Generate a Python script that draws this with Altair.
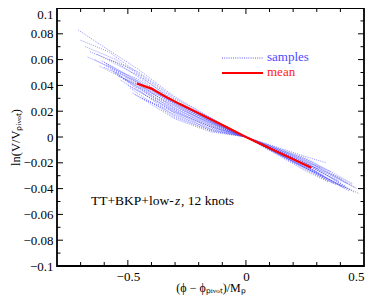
import altair as alt
import pandas as pd

# ---- sample curves (knot positions) ----
samples_x = [
    [-0.71, -0.62, -0.46, -0.30, -0.15, 0.0, 0.25, 0.45],
    [-0.70, -0.58, -0.46, -0.30, -0.15, 0.0, 0.25, 0.47],
    [-0.66, -0.55, -0.46, -0.30, -0.15, 0.0, 0.25, 0.42],
    [-0.67, -0.55, -0.46, -0.30, -0.15, 0.0, 0.25, 0.44],
    [-0.64, -0.46, -0.30, -0.15, 0.0, 0.25, 0.40],
    [-0.60, -0.46, -0.30, -0.15, 0.0, 0.25, 0.46],
    [-0.62, -0.46, -0.30, -0.15, 0.0, 0.25, 0.48],
    [-0.57, -0.46, -0.30, -0.15, 0.0, 0.25, 0.43],
    [-0.55, -0.46, -0.30, -0.15, 0.0, 0.25, 0.38],
    [-0.52, -0.46, -0.30, -0.15, 0.0, 0.25, 0.36],
    [-0.50, -0.46, -0.30, -0.15, 0.0, 0.25, 0.41],
    [-0.49, -0.46, -0.30, -0.15, 0.0, 0.25, 0.35],
    [-0.48, -0.46, -0.30, -0.15, 0.0, 0.25, 0.33],
    [-0.63, -0.46, -0.30, -0.15, 0.0, 0.25, 0.34],
    [-0.58, -0.46, -0.30, -0.15, 0.0, 0.25, 0.45],
    [-0.54, -0.46, -0.30, -0.15, 0.0, 0.25, 0.39],
    [-0.53, -0.46, -0.30, -0.15, 0.0, 0.25, 0.30],
    [-0.47, -0.30, -0.15, 0.0, 0.25, 0.37],
    [-0.60, -0.46, -0.30, -0.15, 0.0, 0.25, 0.43],
    [-0.56, -0.46, -0.30, -0.15, 0.0, 0.25, 0.32],
    [-0.44, -0.30, -0.15, 0.0, 0.25, 0.41],
    [-0.68, -0.55, -0.46, -0.30, -0.15, 0.0, 0.25, 0.46],
    [-0.51, -0.38, -0.22, -0.08, 0.0, 0.18, 0.40],
    [-0.59, -0.40, -0.24, -0.10, 0.0, 0.20, 0.44],
    [-0.45, -0.34, -0.20, -0.06, 0.0, 0.15, 0.31],
    [-0.61, -0.42, -0.26, -0.12, 0.0, 0.22, 0.42],
]
samples_y = [
    [0.083, 0.072, 0.053, 0.031, 0.015, 0.0, -0.016, -0.036],
    [0.075, 0.066, 0.050, 0.029, 0.014, 0.0, -0.018, -0.040],
    [0.066, 0.058, 0.047, 0.025, 0.011, 0.0, -0.020, -0.038],
    [0.062, 0.052, 0.045, 0.027, 0.013, 0.0, -0.022, -0.042],
    [0.060, 0.042, 0.022, 0.009, 0.0, -0.021, -0.035],
    [0.058, 0.044, 0.024, 0.010, 0.0, -0.019, -0.043],
    [0.055, 0.040, 0.020, 0.008, 0.0, -0.024, -0.044],
    [0.052, 0.039, 0.018, 0.006, 0.0, -0.023, -0.040],
    [0.050, 0.037, 0.016, 0.005, 0.0, -0.025, -0.037],
    [0.045, 0.038, 0.021, 0.009, 0.0, -0.017, -0.027],
    [0.040, 0.036, 0.019, 0.007, 0.0, -0.020, -0.033],
    [0.038, 0.034, 0.015, 0.005, 0.0, -0.026, -0.035],
    [0.034, 0.032, 0.017, 0.006, 0.0, -0.022, -0.030],
    [0.064, 0.048, 0.028, 0.013, 0.0, -0.015, -0.020],
    [0.060, 0.051, 0.030, 0.015, 0.0, -0.017, -0.037],
    [0.047, 0.041, 0.023, 0.011, 0.0, -0.021, -0.034],
    [0.044, 0.036, 0.020, 0.008, 0.0, -0.023, -0.027],
    [0.033, 0.014, 0.004, 0.0, -0.024, -0.036],
    [0.054, 0.043, 0.026, 0.012, 0.0, -0.018, -0.036],
    [0.050, 0.039, 0.022, 0.010, 0.0, -0.019, -0.024],
    [0.030, 0.019, 0.008, 0.0, -0.022, -0.039],
    [0.070, 0.060, 0.049, 0.027, 0.012, 0.0, -0.020, -0.039],
    [0.046, 0.033, 0.018, 0.006, 0.0, -0.017, -0.038],
    [0.056, 0.036, 0.020, 0.008, 0.0, -0.019, -0.041],
    [0.039, 0.028, 0.015, 0.004, 0.0, -0.013, -0.025],
    [0.059, 0.039, 0.023, 0.010, 0.0, -0.021, -0.040],
]

# ---- mean curve ----
mean_x = [-0.462, -0.40, -0.34, -0.28, -0.20, -0.10, 0.0, 0.277]
mean_y = [0.0415, 0.0375, 0.0312, 0.0255, 0.0185, 0.0093, 0.0, -0.0238]

# ---- ticks ----
x_labels = [-0.5, 0.0, 0.5]
x_major = [-0.5, 0.0]
x_minor = [-0.7, -0.6, -0.4, -0.3, -0.2, -0.1, 0.1, 0.2, 0.3, 0.4]
y_major = [-0.08, -0.06, -0.04, -0.02, 0.0, 0.02, 0.04, 0.06, 0.08]
y_minor = [-0.09, -0.07, -0.05, -0.03, -0.01, 0.01, 0.03, 0.05, 0.07, 0.09]
y_labels = [-0.1, -0.08, -0.06, -0.04, -0.02, 0.0, 0.02, 0.04, 0.06, 0.08, 0.1]

FONT = "Liberation Serif"
W, H = 307, 258

rows = []
for i, (xs, ys) in enumerate(zip(samples_x, samples_y)):
    for j, (xv, yv) in enumerate(zip(xs, ys)):
        rows.append({"sample": i, "order": j, "x": xv, "y": yv})
df_s = pd.DataFrame(rows)
df_m = pd.DataFrame({"x": mean_x, "y": mean_y, "order": list(range(len(mean_x)))})

xscale = alt.Scale(domain=[-0.8, 0.5], nice=False, zero=False)
yscale = alt.Scale(domain=[-0.1, 0.1], nice=False, zero=False)

xaxis = alt.Axis(values=x_labels, format="~g", ticks=False, domain=False, grid=False,
                 labelFont=FONT, labelFontSize=13, labelColor="black", labelPadding=4,
                 labelOverlap=False,
                 title="(ϕ − ϕₚᵢᵥₒₜ)/Mₚ", titleFont=FONT, titleFontSize=12,
                 titleFontWeight="normal", titleColor="black",
                 titleBaseline="alphabetic", titleY=25)
yaxis = alt.Axis(values=y_labels, format="~g", ticks=False, domain=False, grid=False,
                 labelFont=FONT, labelFontSize=13, labelColor="black", labelPadding=4,
                 labelOverlap=False, labelBound=False,
                 labelBaseline={"condition": {"test": "datum.value >= 0.099", "value": "top"},
                                "value": "middle"},
                 title="ln(V/Vₚᵢᵥₒₜ)", titleFont=FONT, titleFontSize=12.5,
                 titleFontWeight="normal", titleColor="black",
                 titleBaseline="alphabetic", titleX=-38)

def X():
    return alt.X("x:Q", scale=xscale, axis=xaxis)

def Y():
    return alt.Y("y:Q", scale=yscale, axis=yaxis)

samples = alt.Chart(df_s).mark_line(
    color="#4646ff", strokeWidth=0.8, strokeDash=[1, 1.2], opacity=0.75, clip=True
).encode(x=X(), y=Y(), detail="sample:N", order="order:Q")

mean = alt.Chart(df_m).mark_line(color="#ff0000", strokeWidth=2.2).encode(
    x=X(), y=Y(), order="order:Q")

def xticks(vals, length):
    d = pd.DataFrame({"x": vals})
    bot = alt.Chart(d).mark_rule(color="black", strokeWidth=1).encode(
        x=X(), y=alt.value(H), y2=alt.value(H - length))
    top = alt.Chart(d).mark_rule(color="black", strokeWidth=1).encode(
        x=X(), y=alt.value(0), y2=alt.value(length))
    return [bot, top]

def yticks(vals, length):
    d = pd.DataFrame({"y": vals})
    left = alt.Chart(d).mark_rule(color="black", strokeWidth=1).encode(
        y=Y(), x=alt.value(0), x2=alt.value(length))
    right = alt.Chart(d).mark_rule(color="black", strokeWidth=1).encode(
        y=Y(), x=alt.value(W), x2=alt.value(W - length))
    return [left, right]

one = pd.DataFrame({"a": [0]})
frame = alt.Chart(one).mark_rect(fill=None, stroke="black", strokeWidth=1.8).encode(
    x=alt.value(0), x2=alt.value(W), y=alt.value(0), y2=alt.value(H))
leg_s_line = alt.Chart(one).mark_rule(color="#4646ff", strokeWidth=0.9, strokeDash=[1, 1.2]).encode(
    x=alt.value(165), x2=alt.value(206), y=alt.value(50))
leg_m_line = alt.Chart(one).mark_rule(color="#ff0000", strokeWidth=2.2).encode(
    x=alt.value(165), x2=alt.value(206), y=alt.value(65))
leg_s_text = alt.Chart(one).mark_text(text="samples", font=FONT, fontSize=13, color="#4a4aff",
                                      align="left", baseline="middle").encode(
    x=alt.value(210), y=alt.value(49))
leg_m_text = alt.Chart(one).mark_text(text="mean", font=FONT, fontSize=13, color="#ff2020",
                                      align="left", baseline="middle").encode(
    x=alt.value(210), y=alt.value(64))
note1 = alt.Chart(one).mark_text(text="TT+BKP+low-", font=FONT, fontSize=13.5,
                                 color="black", align="left", baseline="middle").encode(
    x=alt.value(34), y=alt.value(193))
note2 = alt.Chart(one).mark_text(text="z", font=FONT, fontSize=13.5, fontStyle="italic",
                                 color="black", align="left", baseline="middle").encode(
    x=alt.value(118), y=alt.value(193))
note3 = alt.Chart(one).mark_text(text=", 12 knots", font=FONT, fontSize=13.5,
                                 color="black", align="left", baseline="middle").encode(
    x=alt.value(124), y=alt.value(193))

layers = [samples, mean] + xticks(x_major, 6) + xticks(x_minor, 4) + yticks(y_major, 6) + \
    yticks(y_minor, 3.5) + [frame, leg_s_line, leg_m_line, leg_s_text, leg_m_text,
                            note1, note2, note3]

chart = alt.layer(*layers).properties(
    width=W, height=H,
    autosize="none",
    background="white",
    padding={"left": 49, "top": 0, "right": 2, "bottom": 29},
).configure_view(stroke=None).configure_axis(labelOverlap=False)

chart.save("out.html", embed_options={"renderer": "svg", "actions": False})
